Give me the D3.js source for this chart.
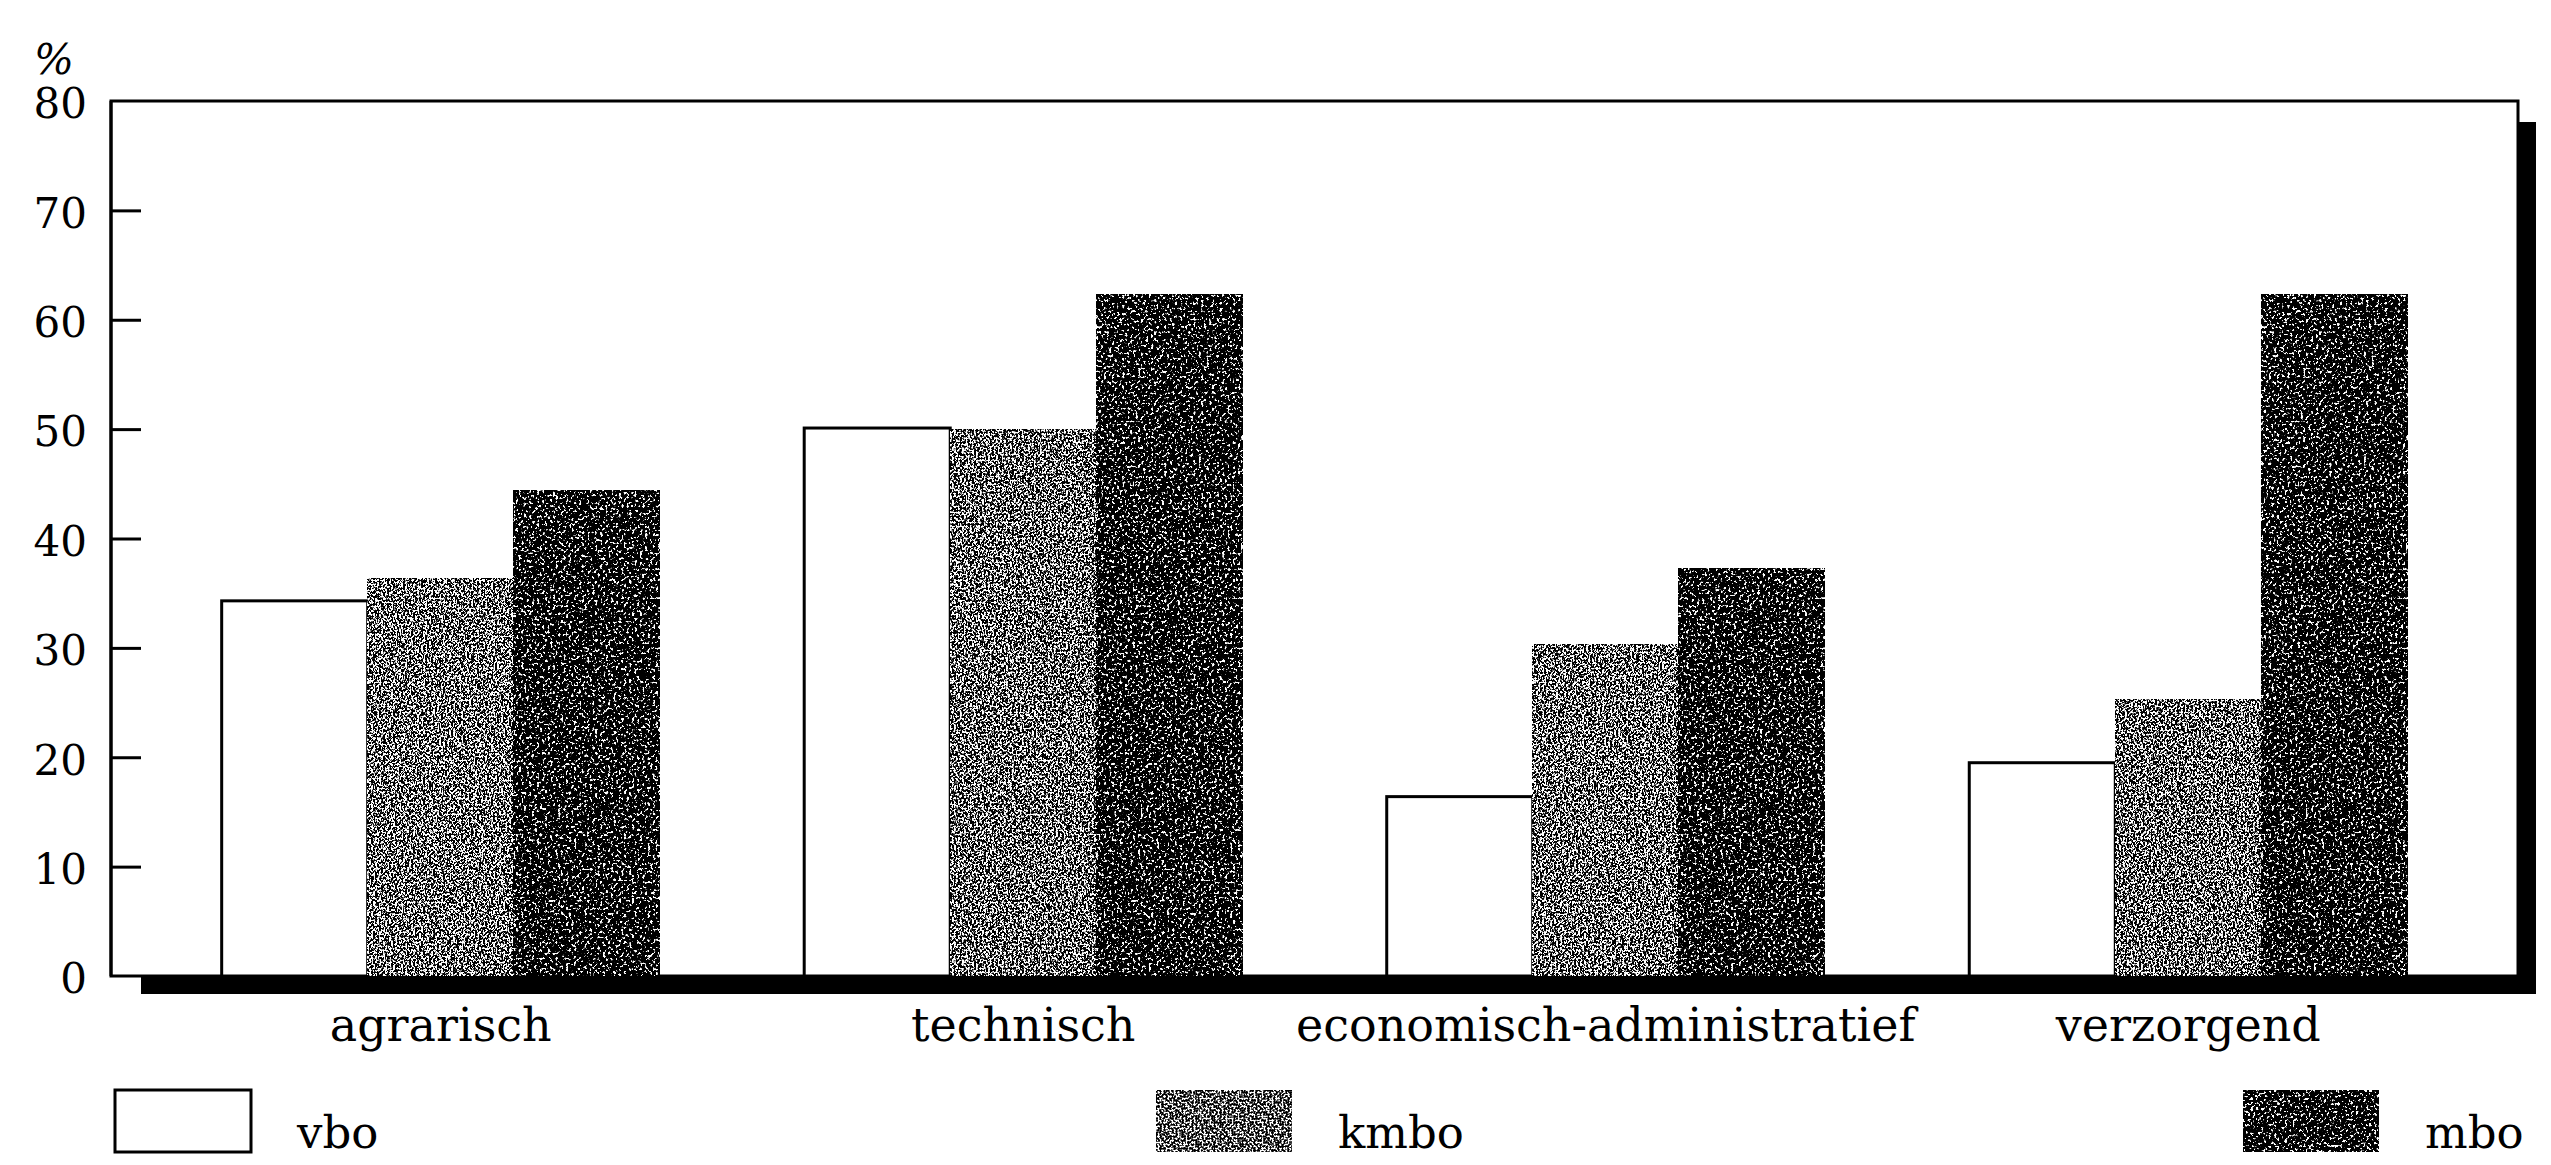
<!DOCTYPE html>
<html>
<head>
<meta charset="utf-8">
<script src="https://cdn.jsdelivr.net/npm/d3@7"></script>
<style>
  html, body { margin: 0; padding: 0; background: #ffffff; }
  svg { display: block; }
  text { font-family: "DejaVu Serif", "Liberation Serif", serif; fill: #000; }
</style>
</head>
<body>
<svg id="chart" width="2551" height="1165"></svg>
<script>
// ---- data ----
const categories = ["agrarisch", "technisch", "economisch-administratief", "verzorgend"];
const seriesNames = ["vbo", "kmbo", "mbo"];
const vbo  = [34.3, 50.1, 16.4, 19.5];
const kmbo = [36.3, 50.0, 30.3, 25.3];
const mbo  = [44.4, 62.3, 37.3, 62.3];
const yTicks = [0, 10, 20, 30, 40, 50, 60, 70, 80];
const yUnit = "%";

const seriesValues = { vbo: vbo, kmbo: kmbo, mbo: mbo };

// ---- layout ----
const plotL = 111, plotR = 2518, plotT = 101, plotB = 976;

const svg = d3.select("#chart");
const defs = svg.append("defs");

// stipple texture filters (deterministic noise)
function stipple(id, freq, seed, threshold) {
  const f = defs.append("filter").attr("id", id)
    .attr("x", 0).attr("y", 0).attr("width", 1).attr("height", 1)
    .attr("color-interpolation-filters", "sRGB");
  f.append("feTurbulence").attr("type", "fractalNoise")
    .attr("baseFrequency", freq).attr("numOctaves", 2).attr("seed", seed).attr("result", "n");
  f.append("feColorMatrix").attr("in", "n").attr("type", "matrix")
    .attr("values", "0 0 0 0 1  0 0 0 0 1  0 0 0 0 1  1 0 0 0 0").attr("result", "w");
  const ct = f.append("feComponentTransfer").attr("in", "w").attr("result", "t");
  ct.append("feFuncA").attr("type", "linear").attr("slope", 14).attr("intercept", -14 * threshold);
  f.append("feComposite").attr("in", "t").attr("in2", "SourceGraphic").attr("operator", "in").attr("result", "s");
  const m = f.append("feMerge");
  m.append("feMergeNode").attr("in", "SourceGraphic");
  m.append("feMergeNode").attr("in", "s");
}
stipple("tex-kmbo", 0.5, 4, 0.48);
stipple("tex-mbo", 0.38, 9, 0.58);

const styles = {
  vbo:  { fill: "#ffffff", filter: null },
  kmbo: { fill: "#000000", filter: "url(#tex-kmbo)" },
  mbo:  { fill: "#000000", filter: "url(#tex-mbo)" }
};

// scales
const x0 = d3.scaleBand().domain(categories).range([plotL, plotR])
  .paddingInner(0.248).paddingOuter(0.19);
const x1 = d3.scaleBand().domain(seriesNames).range([0, x0.bandwidth()]).padding(0);
const y = d3.scaleLinear().domain([0, 80]).range([plotB, plotT]);

// shadow / frame
svg.append("rect").attr("x", 141).attr("y", 122)
  .attr("width", 2536 - 141).attr("height", 994 - 122).attr("fill", "#000");
svg.append("rect").attr("x", plotL).attr("y", plotT)
  .attr("width", plotR - plotL).attr("height", plotB - plotT)
  .attr("fill", "#fff").attr("stroke", "#000").attr("stroke-width", 3);

// bars
const groups = svg.append("g").selectAll("g")
  .data(categories).join("g")
  .attr("transform", d => `translate(${x0(d)},0)`);

groups.selectAll("rect")
  .data((c, i) => seriesNames.map(s => ({ s, v: seriesValues[s][i] })))
  .join("rect")
  .attr("x", d => x1(d.s))
  .attr("y", d => y(d.v))
  .attr("width", x1.bandwidth())
  .attr("height", d => y(0) - y(d.v))
  .attr("fill", d => styles[d.s].fill)
  .attr("filter", d => styles[d.s].filter)
  .attr("stroke", "#000")
  .attr("stroke-width", 3);

// y axis
const yAxis = d3.axisLeft(y).tickValues(yTicks).tickSize(-30).tickPadding(24)
  .tickFormat(d3.format("d"));
const ga = svg.append("g").attr("transform", `translate(${plotL},0)`).call(yAxis);
ga.select(".domain").remove();
ga.selectAll(".tick line").attr("stroke", "#000").attr("stroke-width", 3)
  .filter(d => d === 0 || d === 80).remove();
ga.selectAll(".tick text").attr("font-family", "DejaVu Serif").attr("font-size", 42)
  .attr("dy", "0.4em");
svg.append("line").attr("x1", plotL).attr("x2", plotL).attr("y1", plotT).attr("y2", plotB)
  .attr("stroke", "#000").attr("stroke-width", 3);

// unit label
svg.append("text").attr("x", 34).attr("y", 74)
  .attr("font-size", 42).attr("font-style", "italic").text(yUnit);

// category labels
svg.append("g").selectAll("text").data(categories).join("text")
  .attr("x", d => x0(d) + x0.bandwidth() / 2)
  .attr("y", 1041)
  .attr("text-anchor", "middle")
  .attr("font-size", 46)
  .text(d => d);

// legend
const legendX = [115, 1156, 2243];
const lg = svg.append("g").selectAll("g").data(seriesNames).join("g")
  .attr("transform", (d, i) => `translate(${legendX[i]},1090)`);
lg.append("rect").attr("width", 136).attr("height", 62)
  .attr("fill", d => styles[d].fill).attr("filter", d => styles[d].filter)
  .attr("stroke", "#000").attr("stroke-width", 3);
lg.append("text").attr("x", 182).attr("y", 58)
  .attr("font-size", 45).text(d => d);
</script>
</body>
</html>
